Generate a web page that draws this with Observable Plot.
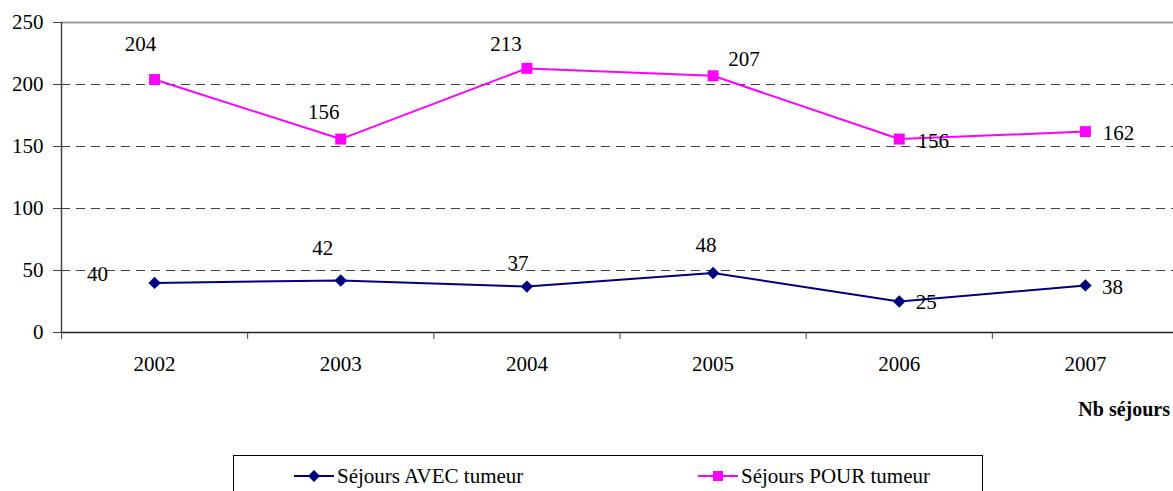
<!DOCTYPE html>
<html>
<head>
<meta charset="utf-8">
<script src="https://cdn.jsdelivr.net/npm/d3@7"></script>
<script src="https://cdn.jsdelivr.net/npm/@observablehq/plot@0.6"></script>
<style>
  html, body { margin: 0; padding: 0; background: #fff; }
  #wrap { position: relative; width: 1173px; height: 491px; overflow: hidden; font-family: "Liberation Serif", "Times New Roman", Tinos, "DejaVu Serif", serif; }
  #xlabel { position: absolute; right: 3px; top: 398px; font-size: 20px; font-weight: bold; color: #000; }
  #legend { position: absolute; left: 233px; top: 455px; width: 750px; height: 60px; border: 1px solid #000; box-sizing: border-box; }
  .item { position: absolute; top: 5px; display: flex; align-items: center; font-size: 21px; color: #000; white-space: nowrap; }
  .item svg { margin-right: 3px; }
</style>
</head>
<body>
<div id="wrap">
  <div id="chart"></div>
  <div id="xlabel">Nb séjours</div>
  <div id="legend"></div>
</div>
<script>
const years = ["2002", "2003", "2004", "2005", "2006", "2007"];
const avec = [40, 42, 37, 48, 25, 38];
const pour = [204, 156, 213, 207, 156, 162];
const seriesNames = ["Séjours AVEC tumeur", "Séjours POUR tumeur"];
const colors = ["#000080", "#FF00FF"];
const yTicks = [0, 50, 100, 150, 200, 250];

// label placement offsets (pixels) relative to each point
const avecOffsets = [[-57, -9], [-18, -32], [-9, -23], [-7, -28], [27, 1], [27, 2]];
const pourOffsets = [[-14, -35], [-17, -27], [-21, -24], [31, -17], [34, 2], [33, 2]];

const avecData = avec.map((v, i) => ({i, v}));
const pourData = pour.map((v, i) => ({i, v}));
const font = "'Liberation Serif', 'Times New Roman', Tinos, 'DejaVu Serif', serif";

const labelMarks = [];
avecData.forEach((d, k) => labelMarks.push(Plot.text([d], {x: "i", y: "v", text: d => String(d.v), dx: avecOffsets[k][0], dy: avecOffsets[k][1], fontSize: 21, fontFamily: font, fill: "#000"})));
pourData.forEach((d, k) => labelMarks.push(Plot.text([d], {x: "i", y: "v", text: d => String(d.v), dx: pourOffsets[k][0], dy: pourOffsets[k][1], fontSize: 21, fontFamily: font, fill: "#000"})));

const chart = Plot.plot({
  width: 1173,
  height: 390,
  marginLeft: 61,
  marginRight: 0,
  marginTop: 22,
  marginBottom: 58,
  style: {fontFamily: font, fontSize: "21px", background: "transparent", overflow: "visible"},
  x: {type: "linear", domain: [-0.5, 5.5], range: [61, 1178]},
  y: {domain: [0, 250]},
  marks: [
    Plot.ruleY([50, 100, 150, 200], {stroke: "#404040", strokeWidth: 1, strokeDasharray: "9,6"}),
    Plot.ruleY([250], {stroke: "#9a9a9a", strokeWidth: 2}),
    Plot.ruleY([0], {stroke: "#222", strokeWidth: 1.5}),
    Plot.ruleX([-0.5], {y1: 0, y2: 250, stroke: "#444", strokeWidth: 1.5}),
    Plot.axisY({ticks: yTicks, tickSize: 8, tickPadding: 10, fontSize: 21, fontFamily: font, stroke: "#444", label: null}),
    Plot.axisX({ticks: d3.range(-0.5, 6, 1), tickSize: 7, tickFormat: () => "", stroke: "#444", label: null}),
    Plot.axisX({ticks: d3.range(0, 6), tickSize: 0, tickPadding: 24, tickFormat: i => years[i], fontSize: 21, fontFamily: font, label: null}),
    Plot.line(avecData, {x: "i", y: "v", stroke: colors[0], strokeWidth: 2}),
    Plot.line(pourData, {x: "i", y: "v", stroke: colors[1], strokeWidth: 2}),
    Plot.dot(avecData, {x: "i", y: "v", symbol: "diamond2", r: 5.6, fill: colors[0], stroke: "none"}),
    Plot.dot(pourData, {x: "i", y: "v", symbol: "square", r: 6.2, fill: colors[1], stroke: "none"}),
    ...labelMarks
  ]
});
document.getElementById("chart").appendChild(chart);

// legend
const legend = document.getElementById("legend");
const lefts = [60, 464];
seriesNames.forEach((name, k) => {
  const item = document.createElement("div");
  item.className = "item";
  item.style.left = lefts[k] + "px";
  const sym = k === 0
    ? `<path d="M20,9 L26,15 L20,21 L14,15 Z" fill="${colors[0]}"/>`
    : `<rect x="15" y="10" width="10" height="10" fill="${colors[1]}"/>`;
  item.innerHTML = `<svg width="40" height="30"><line x1="0" y1="15" x2="40" y2="15" stroke="${colors[k]}" stroke-width="2"/>${sym}</svg><span>${name}</span>`;
  legend.appendChild(item);
});
</script>
</body>
</html>
